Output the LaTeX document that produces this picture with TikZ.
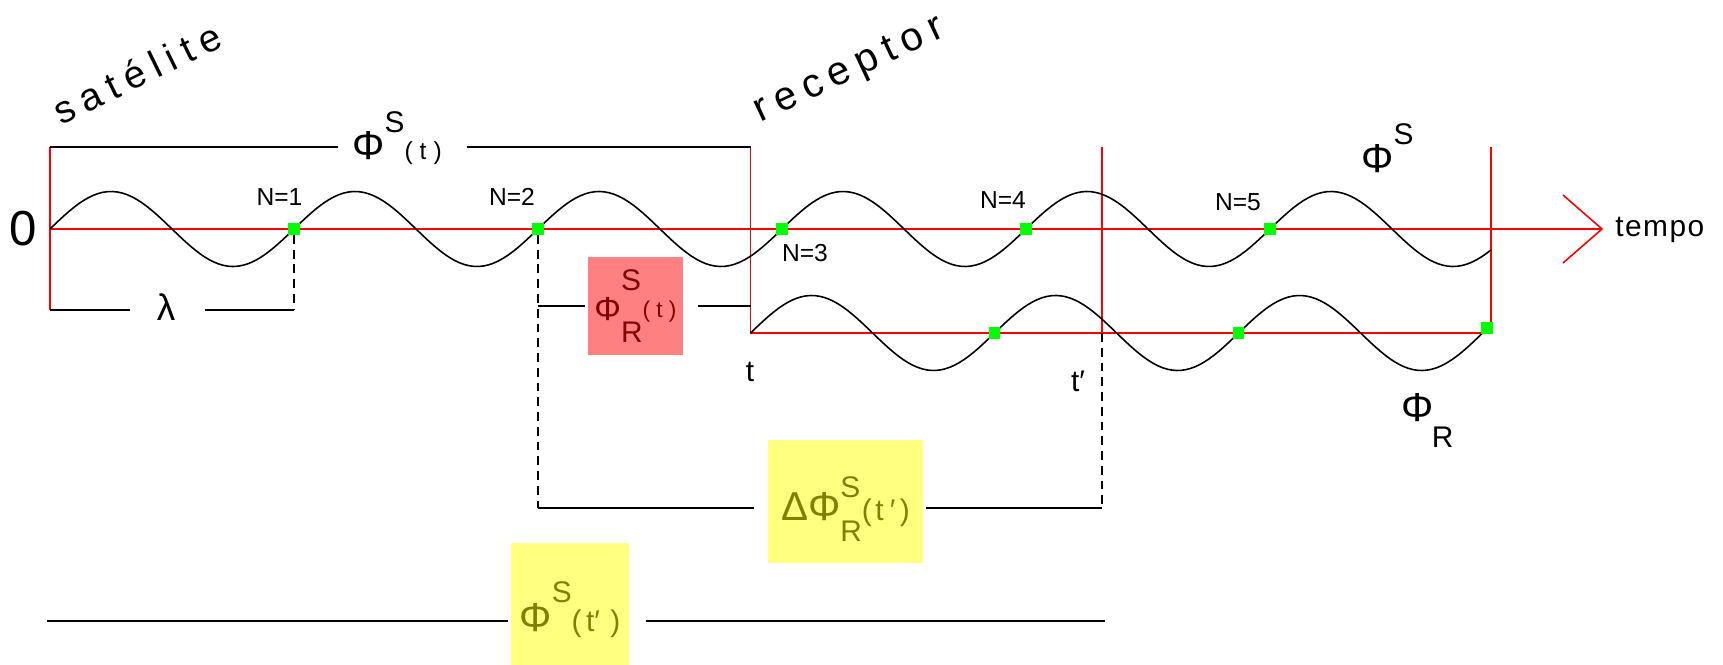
\documentclass[tikz,border=0pt]{standalone}
\usepackage{fontspec}
\setmainfont{Liberation Sans}
\usepackage{xcolor}
\usetikzlibrary{positioning}
\definecolor{axiscolor}{HTML}{FF0000}
\definecolor{markcolor}{HTML}{00FF00}
\definecolor{redboxcolor}{HTML}{FF8080}
\definecolor{redtextcolor}{HTML}{800000}
\definecolor{yellowboxcolor}{HTML}{FFFF80}
\definecolor{yellowtextcolor}{HTML}{808000}
\newcommand{\setfs}[1]{\fontsize{#1}{#1}\selectfont}

\begin{document}
\begin{tikzpicture}[x=0.02cm, y=-0.02cm,
    redline/.style={axiscolor, line width=0.9pt},
    bracket/.style={black, line width=0.9pt},
    guide/.style={black, line width=0.9pt, dash pattern=on 5pt off 3.4pt},
    wave/.style={black, line width=0.9pt},
    zeromark/.style={fill=markcolor, inner sep=0pt, minimum size=6.4pt},
    lbl/.style={inner sep=0pt, text=black},
    redbox/.style={fill=redboxcolor, text=redtextcolor, inner xsep=0pt, inner ysep=0pt},
    yellowbox/.style={fill=yellowboxcolor, text=yellowtextcolor, inner xsep=0pt, inner ysep=0pt}]
    \useasboundingbox (0,0) rectangle (1723,665);

    % Frame corners
    \coordinate (o) at (50,229);
    \coordinate (tip) at (1602,229);
    \coordinate (armU) at (1563,195);
    \coordinate (armD) at (1563,263);
    \coordinate (s0) at (50,147);
    \coordinate (s1) at (50,310);
    \coordinate (r0) at (750.6,147);
    \coordinate (r1) at (750.6,333);
    \coordinate (m0) at (1102,147);
    \coordinate (m1) at (1102,333);
    \coordinate (e0) at (1491,147);
    \coordinate (e1) at (1491,333);
    \coordinate (b1) at (1102,508);
    \coordinate (f0) at (47,621);
    \coordinate (f1) at (1105,621);

    % Time axis and red frames
    \draw[redline] (s0) -- (s1);
    \draw[redline] (r0) -- (r1) -- (e1) -- (e0);
    \draw[redline] (m0) -- (m1);
    \draw[redline] (o) -- (tip);
    \draw[redline] (armU) -- (tip) -- (armD);

    % Waves
    \draw[wave] plot[domain=50:1491, samples=300] (\x, {229-37.5*sin((\x-50)/244*360)});
    \draw[wave] plot[domain=750.6:1487, samples=160] (\x, {333-37.5*sin((\x-750.6)/244*360)});

    % Zero crossings
    \node[zeromark] (n1) at (294,229) {};
    \node[zeromark] (n2) at (538,229) {};
    \node[zeromark] (n3) at (782,229) {};
    \node[zeromark] (n4) at (1026,229) {};
    \node[zeromark] (n5) at (1270,229) {};
    \node[zeromark] (q1) at (994.6,333) {};
    \node[zeromark] (q2) at (1238.6,333) {};
    \node[zeromark] (q3) at (1487,328) {};

    % Labels
    \node[lbl] (zero) at (23,229) {\setfs{28}0};
    \node[lbl, rotate=26] (sat) at (137,73) {\setfs{22}\addfontfeature{LetterSpace=22}satélite};
    \node[lbl, rotate=25] (rec) at (850,71) {\setfs{23}\addfontfeature{LetterSpace=20}receptor};
    \node[lbl, anchor=base west] (tempo) at (1615,237) {\setfs{17}\addfontfeature{LetterSpace=5}tempo};
    \node[lbl, anchor=base] (lN1) at (279.5,206) {\setfs{14}N=1};
    \node[lbl, anchor=base] (lN2) at (512,206) {\setfs{14}N=2};
    \node[lbl, anchor=base] (lN3) at (805,262) {\setfs{14}N=3};
    \node[lbl, anchor=base] (lN4) at (1003,209) {\setfs{14}N=4};
    \node[lbl, anchor=base] (lN5) at (1238,211) {\setfs{14}N=5};
    \node[lbl, anchor=base] (tA) at (750,381) {\setfs{17}t};
    \node[lbl, anchor=base] (tB) at (1078,391) {\setfs{17}t′};
    \node[lbl] (lam) at (166,307) {\setfs{21}λ};
    \node[lbl, anchor=base west] (phiS) at (352,160)
        {\setfs{23}Φ\raisebox{15.9pt}{\setfs{17}S}\setfs{14}(\kern4pt t\kern4pt)};
    \node[lbl, anchor=base west] (phiSat) at (1361,173)
        {\setfs{23}Φ\raisebox{16pt}{\setfs{17}S}};
    \node[lbl, anchor=base west] (phiRec) at (1401,421)
        {\setfs{23}Φ\hspace{-1pt}\raisebox{-15.3pt}{\setfs{17}R}};

    % Highlighted phases
    \node[redbox, anchor=base, minimum width=53.9pt, text height=35.7pt, text depth=19.8pt] (phiR) at (635.5,320)
        {\setfs{19}Φ\rlap{\raisebox{17pt}{\setfs{17}S}}\raisebox{-13pt}{\setfs{17}R}\raisebox{1.5pt}{\setfs{13}(\kern3.5pt t\kern3.5pt)}};
    \node[yellowbox, anchor=base, minimum width=87.9pt, text height=45.4pt, text depth=24.4pt] (dPhi) at (845.5,520)
        {\setfs{23}ΔΦ\rlap{\raisebox{13pt}{\setfs{17}S}}\raisebox{-12.5pt}{\setfs{17}R}\setfs{17}(\kern2pt t\kern3.5pt′\kern2.5pt)};
    \node[yellowbox, anchor=base, minimum width=66.9pt, text height=49.9pt, text depth=19.3pt] (yPhi) at (570,631)
        {\setfs{23}Φ\raisebox{16.4pt}{\setfs{17}S}\setfs{17}(\kern2.5pt t′\kern6pt)};

    % Brackets
    \draw[bracket] (s0) -- ([xshift=-8pt]phiS.west |- s0);
    \draw[bracket] ([xshift=14pt]phiS.east |- s0) -- (r0);
    \draw[bracket] (s1) -- ([xshift=-15pt]lam.west |- s1);
    \draw[bracket] ([xshift=17pt]lam.east |- s1) -- (n1 |- s1);
    \draw[guide] (n1) -- (n1 |- s1);
    \draw[guide] (n2) -- (n2 |- b1);
    \draw[bracket] (n2 |- phiR.west) -- ([xshift=-1.5pt]phiR.west);
    \draw[bracket] ([xshift=8.5pt]phiR.east) -- (r0 |- phiR.east);
    \draw[guide] (m1) -- (b1);
    \draw[bracket] (n2 |- b1) -- ([xshift=-8pt]dPhi.west |- b1);
    \draw[bracket] ([xshift=1.5pt]dPhi.east |- b1) -- (b1);
    \draw[bracket] (f0) -- ([xshift=-1.5pt]yPhi.west |- f0);
    \draw[bracket] ([xshift=9.6pt]yPhi.east |- f0) -- (f1);
\end{tikzpicture}
\end{document}
